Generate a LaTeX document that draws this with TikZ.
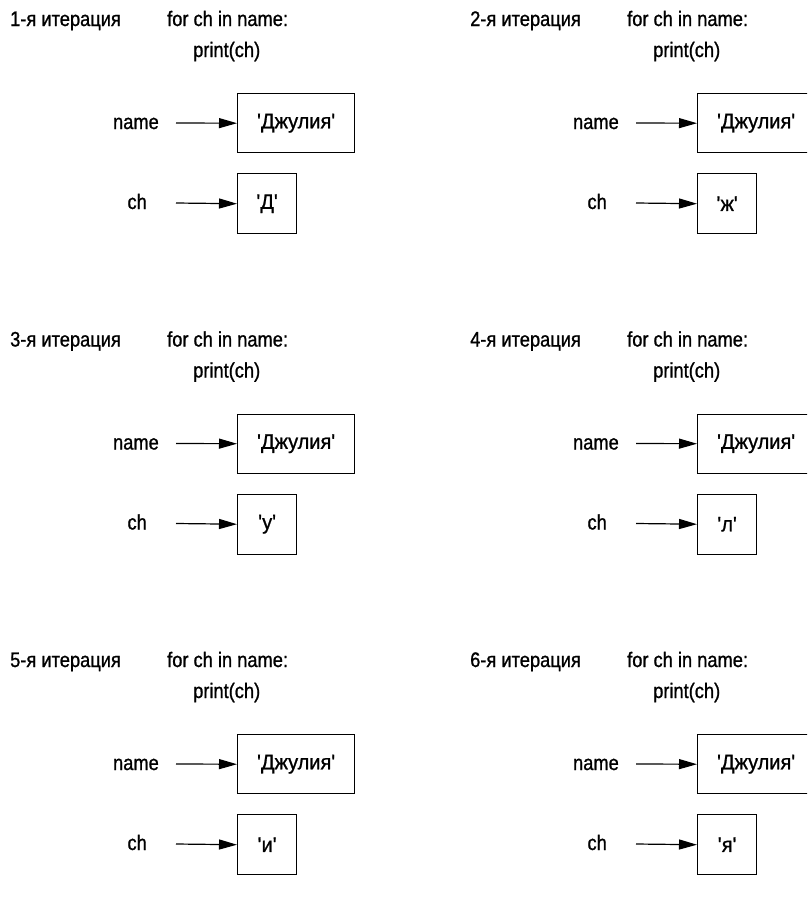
\documentclass[tikz,border=0pt]{standalone}
\usepackage{fontspec}
\setmainfont{Liberation Sans}[FakeStretch=0.87,FakeBold=1]
\newfontfamily\valfont{Liberation Sans}[FakeStretch=0.95,FakeBold=1]
\usetikzlibrary{arrows.meta}
\begin{document}
\begin{tikzpicture}[x=1pt,y=1pt,
  txt/.style={inner sep=0pt,font=\fontsize{21}{25}\selectfont},
  valbox/.style={draw,line width=1.4pt,inner sep=0pt,font=\valfont\fontsize{21}{25}\selectfont},
  ptr/.style={line width=1.2pt,-{Triangle[length=18pt,width=10pt]}}]
\clip (0,0) rectangle (807,-914);
\fill[white] (0,0) rectangle (807,-914);
\foreach \c/\r/\ltr/\n in {0/0/Д/1, 1/0/ж/2, 0/1/у/3, 1/1/л/4, 0/2/и/5, 1/2/я/6}{
  \begin{scope}[shift={(460*\c,-320.5*\r)}]
    \node[txt,anchor=base west] (it\n) at (10,-26) {\n-я итерация};
    \node[txt,anchor=base west] (for\n) at (167,-26) {for ch in name:};
    \node[txt,anchor=base west] (pr\n) at (193,-57) {print(ch)};
    \node[txt,anchor=base east] (nm\n) at (159,-129) {name};
    \node[txt,anchor=base east] (chl\n) at (147,-209) {ch};
    \node[valbox,minimum width=117pt,minimum height=59pt,anchor=north west] (nb\n) at (237,-93) {\textquotesingle Джулия\textquotesingle};
    \node[valbox,minimum width=59pt,minimum height=60pt,anchor=north west] (cb\n) at (237,-173) {\textquotesingle\ltr\textquotesingle};
    \coordinate (ns\n) at (176,-123);
    \coordinate (cs\n) at (176,-203);
    \draw[ptr] (ns\n) -- (nb\n.west);
    \draw[ptr] (cs\n) -- (cb\n.west);
  \end{scope}
}
\end{tikzpicture}
\end{document}
